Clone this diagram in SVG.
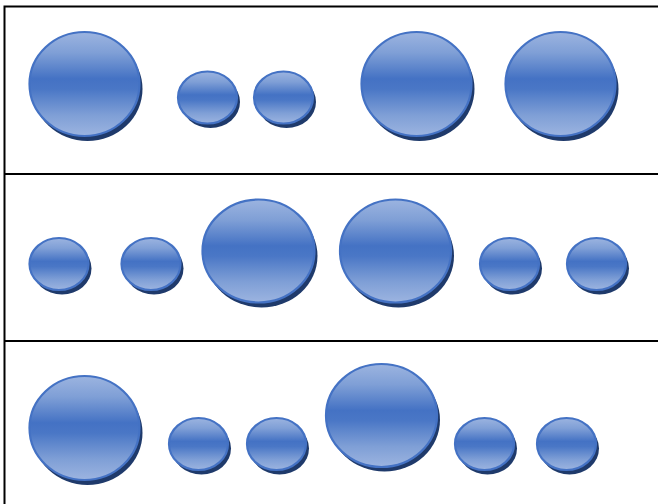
<svg xmlns="http://www.w3.org/2000/svg" width="658" height="504" viewBox="0 0 658 504">
<defs>
<linearGradient id="g" x1="0" y1="0" x2="0" y2="1">
<stop offset="0" stop-color="#9cb4e0"/>
<stop offset="0.2" stop-color="#7f9fd6"/>
<stop offset="0.45" stop-color="#4472c4"/>
<stop offset="0.55" stop-color="#4a77c6"/>
<stop offset="0.8" stop-color="#7f9fd6"/>
<stop offset="1" stop-color="#9cb4e0"/>
</linearGradient>
<style>
.sh{fill:#1f3a6b}
.fc{fill:url(#g);stroke:#4472c4;stroke-width:2.2}
.ln{stroke:#000;stroke-width:2;fill:none}
</style>
</defs>
<rect width="658" height="504" fill="#fff"/>
<g id="grid">
<path class="ln" d="M4.5 504V6.5H658M4.5 174H658M4.5 341H658"/>
</g>
<g id="row1">
<g id="c1"><ellipse class="sh" cx="87.5" cy="89" rx="55" ry="52"/><ellipse class="fc" cx="84.5" cy="84" rx="55" ry="52"/></g>
<g id="c2"><ellipse class="sh" cx="210.5" cy="102" rx="29.5" ry="26"/><ellipse class="fc" cx="207.5" cy="97.5" rx="29.5" ry="26"/></g>
<g id="c3"><ellipse class="sh" cx="286.5" cy="102" rx="29.5" ry="26"/><ellipse class="fc" cx="283.5" cy="97.5" rx="29.5" ry="26"/></g>
<g id="c4"><ellipse class="sh" cx="419.5" cy="89" rx="55" ry="52"/><ellipse class="fc" cx="416.5" cy="84" rx="55" ry="52"/></g>
<g id="c5"><ellipse class="sh" cx="563.5" cy="89" rx="55" ry="52"/><ellipse class="fc" cx="560.5" cy="84" rx="55" ry="52"/></g>
</g>
<g id="row2">
<g id="c6"><ellipse class="sh" cx="62" cy="268.5" rx="29.5" ry="26"/><ellipse class="fc" cx="59" cy="264" rx="29.5" ry="26"/></g>
<g id="c7"><ellipse class="sh" cx="154" cy="268.5" rx="29.5" ry="26"/><ellipse class="fc" cx="151" cy="264" rx="29.5" ry="26"/></g>
<g id="c8"><ellipse class="sh" cx="261.5" cy="256" rx="56" ry="51.5"/><ellipse class="fc" cx="258.5" cy="251" rx="56" ry="51.5"/></g>
<g id="c9"><ellipse class="sh" cx="398.5" cy="256" rx="55.5" ry="51.5"/><ellipse class="fc" cx="395.5" cy="251" rx="55.5" ry="51.5"/></g>
<g id="c10"><ellipse class="sh" cx="512.5" cy="268.5" rx="29.5" ry="26"/><ellipse class="fc" cx="509.5" cy="264" rx="29.5" ry="26"/></g>
<g id="c11"><ellipse class="sh" cx="599.5" cy="268.5" rx="29.5" ry="26"/><ellipse class="fc" cx="596.5" cy="264" rx="29.5" ry="26"/></g>
</g>
<g id="row3">
<g id="c12"><ellipse class="sh" cx="87.5" cy="433" rx="55" ry="52"/><ellipse class="fc" cx="84.5" cy="428" rx="55" ry="52"/></g>
<g id="c13"><ellipse class="sh" cx="201.5" cy="448.5" rx="29.5" ry="26"/><ellipse class="fc" cx="198.5" cy="444" rx="29.5" ry="26"/></g>
<g id="c14"><ellipse class="sh" cx="279.5" cy="448.5" rx="29.5" ry="26"/><ellipse class="fc" cx="276.5" cy="444" rx="29.5" ry="26"/></g>
<g id="c15"><ellipse class="sh" cx="384.5" cy="420" rx="55.5" ry="51.5"/><ellipse class="fc" cx="381.5" cy="415.5" rx="55.5" ry="51.5"/></g>
<g id="c16"><ellipse class="sh" cx="487.5" cy="448.5" rx="29.5" ry="26"/><ellipse class="fc" cx="484.5" cy="444" rx="29.5" ry="26"/></g>
<g id="c17"><ellipse class="sh" cx="569.5" cy="448.5" rx="29.5" ry="26"/><ellipse class="fc" cx="566.5" cy="444" rx="29.5" ry="26"/></g>
</g>
</svg>
